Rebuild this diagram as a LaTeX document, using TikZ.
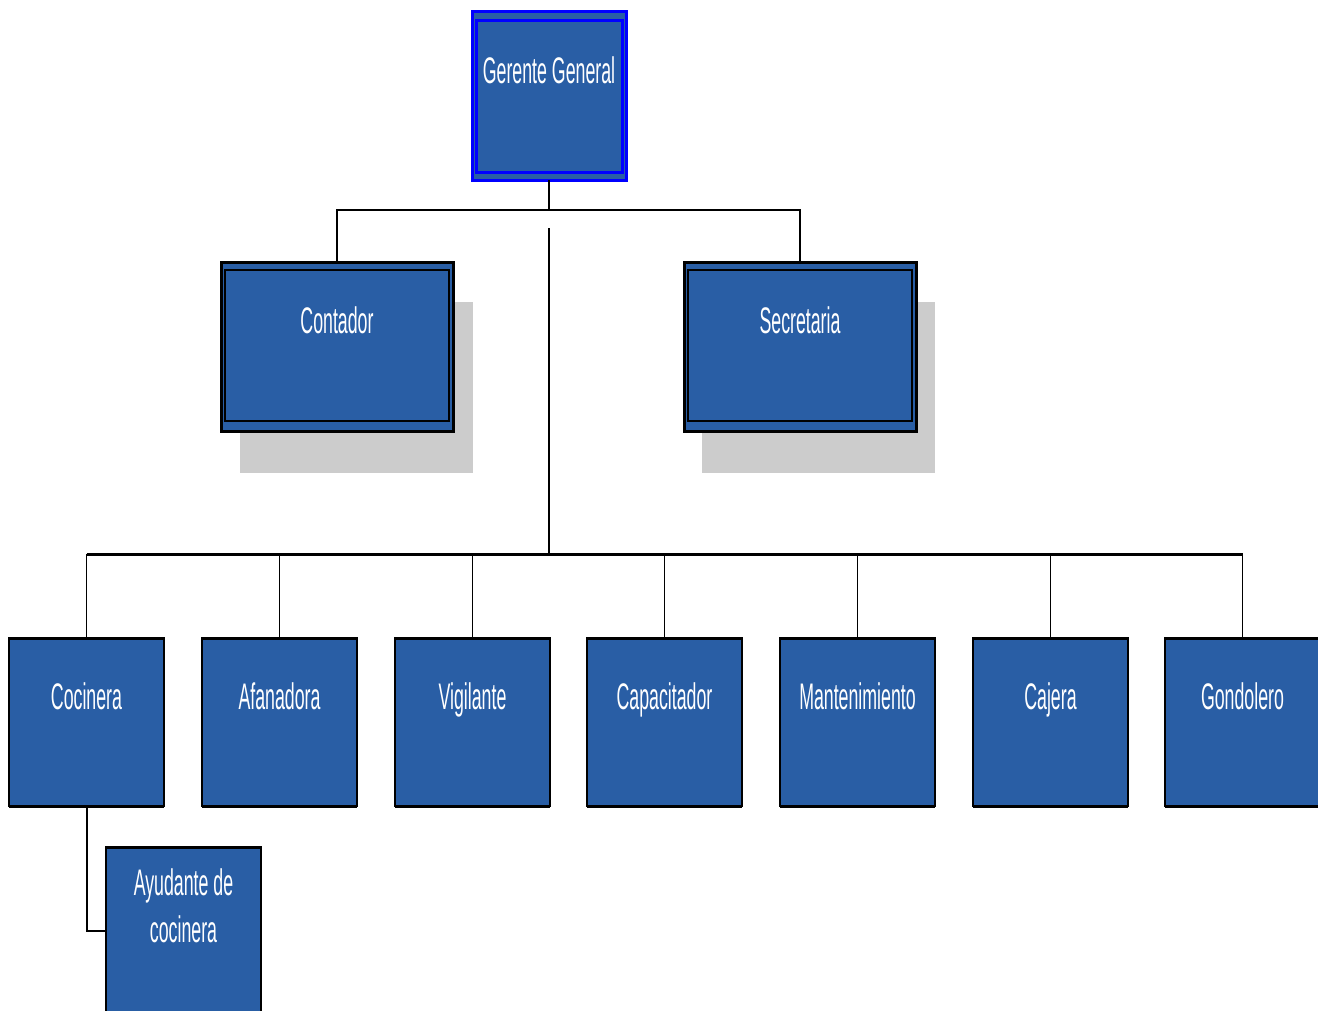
\documentclass[tikz,border=0pt]{standalone}
\usepackage{fontspec}
\newfontfamily\condfont[FakeStretch=0.48]{Liberation Sans}
\definecolor{boxblue}{RGB}{41,94,165}
\definecolor{shadowgray}{RGB}{204,204,204}
\definecolor{pureblue}{RGB}{0,0,255}
\begin{document}
\begin{tikzpicture}[x=1pt,y=-1pt,
  box/.style={fill=boxblue, draw=black, line width=1.5pt, inner sep=0pt, outer sep=0pt, anchor=north west, minimum width=155pt, minimum height=168pt},
  midbox/.style={box, line width=3pt, minimum width=232pt, minimum height=169pt},
  topbox/.style={box, draw=pureblue, line width=3pt, minimum width=154pt, minimum height=169pt},
  shadowbox/.style={fill=shadowgray, draw=none, inner sep=0pt, outer sep=0pt, anchor=north west, minimum width=233pt, minimum height=171pt},
  lbl/.style={text=white, font=\condfont\fontsize{37}{47}\selectfont, anchor=base, inner sep=0pt},
  conn/.style={draw=black, line width=2pt},
  bus/.style={draw=black, line width=3pt},
  drop/.style={draw=black, line width=1.5pt}]
\useasboundingbox (0,0) rectangle (1318,1010);
\clip (0,0) rectangle (1318,1010);
\fill[white] (0,0) rectangle (1318,1010);

% shadows
\node[shadowbox] (conts) at (240,302) {};
\node[shadowbox] (secs) at (702,302) {};

% top box
\node[topbox] (gg) at (472,11) {};
\draw[pureblue, line width=3pt] ([shift={(4,9)}]gg.north west) rectangle ([shift={(-4,-8)}]gg.south east);
\node[lbl] (tgg) at (549,83) {Gerente General};

% middle boxes
\node[midbox] (cont) at (221,262) {};
\draw[black, line width=2pt] ([shift={(4,8)}]cont.north west) rectangle ([shift={(-4,-10)}]cont.south east);
\node[lbl] (tcont) at (337,333) {Contador};

\node[midbox] (sec) at (684,262) {};
\draw[black, line width=2pt] ([shift={(4,8)}]sec.north west) rectangle ([shift={(-4,-10)}]sec.south east);
\node[lbl] (tsec) at (800,333) {Secretaria};

% bottom boxes
\node[box] (coc) at (9,638) {};
\node[box] (afa) at (202,638) {};
\node[box] (vig) at (395,638) {};
\node[box] (cap) at (587,638) {};
\node[box] (man) at (780,638) {};
\node[box] (caj) at (973,638) {};
\node[box] (gon) at (1165,638) {};
\node[box] (ayu) at (106,847) {};
\foreach \n in {coc,afa,vig,cap,man,caj,gon,ayu}{
  \draw[black, line width=3pt] (\n.north west) -- (\n.north east);
  \draw[black, line width=3pt] (\n.south west) -- (\n.south east);
}
\node[lbl] (tcoc) at (coc.north |- 0,709) {Cocinera};
\node[lbl] (tafa) at (afa.north |- 0,709) {Afanadora};
\node[lbl] (tvig) at (vig.north |- 0,709) {Vigilante};
\node[lbl] (tcap) at (cap.north |- 0,709) {Capacitador};
\node[lbl] (tman) at (man.north |- 0,709) {Mantenimiento};
\node[lbl] (tcaj) at (caj.north |- 0,709) {Cajera};
\node[lbl] (tgon) at (gon.north |- 0,709) {Gondolero};
\node[lbl] (tayu1) at (ayu.north |- 0,895) {Ayudante de};
\node[lbl] (tayu2) at (ayu.north |- 0,942) {cocinera};

% connectors
\coordinate (j1) at (549,210);
\draw[conn] (gg.south) -- (j1);
\draw[conn] (cont.north) |- (j1) -| (sec.north);
\coordinate (c1) at (549,228);
\coordinate (c2) at (549,554);
\draw[conn] (c1) -- (c2);
\draw[bus] (c2 -| coc.north) -- (c2 -| gon.north);
\foreach \n in {coc,afa,vig,cap,man,caj,gon}{
  \draw[drop] (c2 -| \n.north) -- (\n.north);
}
\draw[conn] (coc.south) |- (ayu.west);
\end{tikzpicture}
\end{document}
